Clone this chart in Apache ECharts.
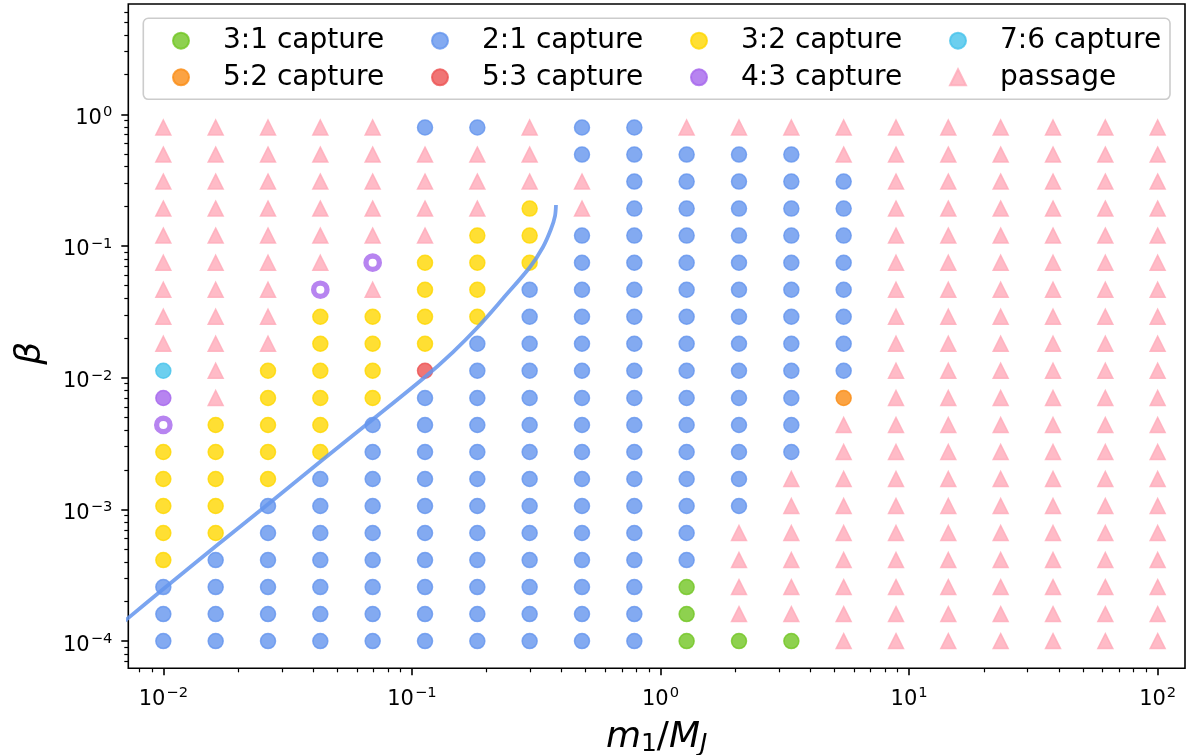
<!DOCTYPE html>
<html>
<head>
<meta charset="utf-8">
<script src="https://cdn.jsdelivr.net/npm/echarts@6/dist/echarts.min.js"></script>
<style>
  html, body { margin: 0; padding: 0; background: #fff; }
  #chart { width: 1187px; height: 755px; }
</style>
</head>
<body>
<div id="chart"></div>
<script>
// Planet mass grid (m1 / M_J), one entry per column
const massValues = [0.01, 0.01624, 0.02637, 0.04281, 0.06952, 0.1129, 0.1833, 0.2976, 0.4833, 0.7848,
                    1.274, 2.069, 3.360, 5.456, 8.859, 14.38, 23.36, 37.93, 61.58, 100];
// Beta grid, one entry per row (smallest first)
const betaValues = [1.0e-4, 1.604e-4, 2.572e-4, 4.125e-4, 6.615e-4, 1.061e-3, 1.701e-3, 2.728e-3, 4.376e-3, 7.017e-3,
                    1.129e-2, 1.810e-2, 2.903e-2, 4.656e-2, 7.467e-2, 0.1199, 0.1923, 0.3084, 0.4947, 0.7943];
// Outcome of each run, rows from largest beta down, one character per mass column
// G = 3:1, 2 = 2:1, Y = 3:2, C = 7:6, O = 5:2, R = 5:3, V = 4:3, v = 4:3 (open), P = passage
const outcomeRows = [
  "PPPPP22P22PPPPPPPPPP",
  "PPPPPPPP22222PPPPPPP",
  "PPPPPPPPP22222PPPPPP",
  "PPPPPPPYP22222PPPPPP",
  "PPPPPPYY222222PPPPPP",
  "PPPPvYYY222222PPPPPP",
  "PPPvPYY2222222PPPPPP",
  "PPPYYYY2222222PPPPPP",
  "PPPYYY22222222PPPPPP",
  "CPYYYR22222222PPPPPP",
  "VPYYY22222222OPPPPPP",
  "vYYY222222222PPPPPPP",
  "YYYY222222222PPPPPPP",
  "YYY222222222PPPPPPPP",
  "YY2222222222PPPPPPPP",
  "YY222222222PPPPPPPPP",
  "Y2222222222PPPPPPPPP",
  "2222222222GPPPPPPPPP",
  "2222222222GPPPPPPPPP",
  "2222222222GGGPPPPPPP"
];
// Legend entries (row-major order) and the codes each one collects
const outcomeNames = ['3:1 capture', '2:1 capture', '3:2 capture', '7:6 capture',
                      '5:2 capture', '5:3 capture', '4:3 capture', 'passage'];
const outcomeCodes = { '3:1 capture': 'G', '2:1 capture': '2', '3:2 capture': 'Y', '7:6 capture': 'C',
                       '5:2 capture': 'O', '5:3 capture': 'R', '4:3 capture': 'Vv', 'passage': 'P' };
// Resonance-capture boundary curve
const boundaryMass = [0.00669, 0.0100, 0.01629, 0.02644, 0.04337, 0.06955, 0.1129, 0.1463, 0.1827,
                      0.2325, 0.2986, 0.3368, 0.3627, 0.3763, 0.3798];
const boundaryBeta = [1.327e-4, 2.489e-4, 5.27e-4, 1.099e-3, 2.35e-3, 4.816e-3, 1.012e-2, 1.567e-2, 2.384e-2,
                      3.994e-2, 6.926e-2, 9.826e-2, 0.1346, 0.1689, 0.2048];
// Axis limits and labelled decades
const xLimits = [0.007229, 128.8];
const yLimits = [6.215e-5, 6.88];
const xTickExponents = [-2, -1, 0, 1, 2];
const yTickExponents = [-4, -3, -2, -1, 0];

// ---- styling ----
const FONT = 'DejaVu Sans';
const markerColors = {
  '3:1 capture': 'rgba(114,197,35,0.8)',
  '2:1 capture': 'rgba(100,149,237,0.8)',
  '3:2 capture': 'rgba(255,215,0,0.8)',
  '7:6 capture': 'rgba(71,195,235,0.8)',
  '5:2 capture': 'rgba(250,140,20,0.8)',
  '5:3 capture': 'rgba(236,82,82,0.8)',
  '4:3 capture': 'rgba(165,101,236,0.8)',
  'passage':     'rgba(255,170,185,0.8)'
};

const L = Math.log10;

// log-spaced minor tick positions (2..9 x 10^k) inside an extent given in decades
function minorTicks(lo, hi) {
  const out = [];
  for (let k = Math.floor(lo) - 1; k <= Math.ceil(hi); k++) {
    for (let m = 2; m <= 9; m++) {
      const v = k + L(m);
      if (v > lo && v < hi) out.push(v);
    }
  }
  return out;
}

const xMin = L(xLimits[0]), xMax = L(xLimits[1]);
const yMin = L(yLimits[0]), yMax = L(yLimits[1]);

function expLabel(v) {
  const e = Math.round(v);
  return '{b|10}{s|' + (e < 0 ? '\u2212' : '') + Math.abs(e) + '}';
}
const xTickRich = {
  b: { fontSize: 21, lineHeight: 24, fontFamily: FONT, color: '#000' },
  s: { fontSize: 14.7, lineHeight: 15, fontFamily: FONT, color: '#000', padding: [0, 0, 12, 1] }
};
const yTickRich = {
  b: { fontSize: 21, lineHeight: 24, fontFamily: FONT, color: '#000', padding: [8, 0, 0, 0] },
  s: { fontSize: 14.7, lineHeight: 15, fontFamily: FONT, color: '#000', padding: [0, 0, 4, 1] }
};

const series = outcomeNames.map(function (name) {
  const codes = outcomeCodes[name];
  const color = markerColors[name];
  const data = [];
  outcomeRows.forEach(function (row, i) {
    const bi = betaValues.length - 1 - i;
    for (let j = 0; j < row.length; j++) {
      const c = row[j];
      if (codes.indexOf(c) < 0) continue;
      const pt = [L(massValues[j]), L(betaValues[bi])];
      if (c === 'v') {
        data.push({ value: pt, symbolSize: 13.4,
          itemStyle: { color: '#ffffff', borderColor: color, borderWidth: 5.3 } });
      } else {
        data.push(pt);
      }
    }
  });
  const isTri = name === 'passage';
  return {
    name: name,
    type: 'scatter',
    xAxisIndex: 0, yAxisIndex: 0,
    symbol: isTri ? 'triangle' : 'circle',
    symbolSize: 15,
    itemStyle: { color: color, borderColor: color, borderWidth: 1.5, opacity: 1 },
    emphasis: { disabled: true },
    data: data,
    z: 2
  };
});

series.push({
  name: 'boundary',
  type: 'line',
  xAxisIndex: 0, yAxisIndex: 0,
  data: boundaryMass.map(function (m, i) { return [L(m), L(boundaryBeta[i])]; }),
  showSymbol: false,
  smooth: 0.3,
  lineStyle: { color: 'rgba(100,149,237,0.85)', width: 3.8 },
  emphasis: { disabled: true },
  clip: true,
  z: 5
});

function legendItem(name, textWidth) {
  return { name: name, icon: name === 'passage' ? 'triangle' : 'circle',
           textStyle: { width: textWidth } };
}

const option = {
  animation: false,
  backgroundColor: '#ffffff',
  textStyle: { fontFamily: FONT },
  grid: {
    left: 128.3, top: 4, right: 2, bottom: 86.7,
    show: true, borderColor: '#000', borderWidth: 1.6, backgroundColor: 'transparent',
    containLabel: false, outerBoundsMode: 'none'
  },
  legend: {
    left: 143.3, top: 18.3, width: 1000,
    orient: 'horizontal',
    padding: [8.1, 7, 7.7, 28.7],
    itemGap: 8,
    itemWidth: 16, itemHeight: 16,
    selectedMode: false,
    backgroundColor: 'rgba(255,255,255,0.8)',
    borderColor: '#cccccc', borderWidth: 1.6, borderRadius: 5,
    textStyle: { fontSize: 28, lineHeight: 28.6, fontFamily: FONT, color: '#000',
                 width: 200, padding: [0, 0, 0, 29] },
    data: [
      legendItem('3:1 capture', 200), legendItem('2:1 capture', 200), legendItem('3:2 capture', 200),
      legendItem('7:6 capture', 163),
      legendItem('5:2 capture', 200), legendItem('5:3 capture', 200), legendItem('4:3 capture', 200),
      legendItem('passage', 163)
    ]
  },
  xAxis: [
    {
      type: 'value', min: xMin, max: xMax, gridIndex: 0, position: 'bottom',
      name: '{i|m}{d|1}{r|/}{i|M}{j|J}',
      nameLocation: 'middle', nameGap: 50,
      nameTextStyle: {
        rich: {
          i: { fontSize: 36, fontStyle: 'italic', fontFamily: FONT, color: '#000' },
          r: { fontSize: 36, fontFamily: FONT, color: '#000' },
          d: { fontSize: 25, fontFamily: FONT, color: '#000', padding: [14, 0, 0, 0] },
          j: { fontSize: 25, fontStyle: 'italic', fontFamily: FONT, color: '#000', padding: [14, 0, 0, 0] }
        }
      },
      axisLine: { show: false, onZero: false },
      splitLine: { show: false },
      axisTick: { show: true, length: 7, customValues: xTickExponents,
                  lineStyle: { color: '#000', width: 1.6 } },
      axisLabel: { show: true, margin: 19, customValues: xTickExponents,
                   formatter: expLabel, rich: xTickRich }
    },
    {
      type: 'value', min: xMin, max: xMax, gridIndex: 0, position: 'bottom', offset: 0,
      axisLine: { show: false, onZero: false },
      splitLine: { show: false },
      axisTick: { show: true, length: 4, customValues: minorTicks(xMin, xMax),
                  lineStyle: { color: '#000', width: 1.2 } },
      axisLabel: { show: false }
    }
  ],
  yAxis: [
    {
      type: 'value', min: yMin, max: yMax, gridIndex: 0, position: 'left',
      name: 'β',
      nameLocation: 'middle', nameGap: 80,
      nameTextStyle: { fontSize: 36, fontStyle: 'italic', fontFamily: FONT, color: '#000',
                       padding: [0, 34, 0, 0] },
      axisLine: { show: false, onZero: false },
      splitLine: { show: false },
      axisTick: { show: true, length: 7, customValues: yTickExponents,
                  lineStyle: { color: '#000', width: 1.6 } },
      axisLabel: { show: true, margin: 16, customValues: yTickExponents,
                   formatter: expLabel, rich: yTickRich }
    },
    {
      type: 'value', min: yMin, max: yMax, gridIndex: 0, position: 'left', offset: 0,
      axisLine: { show: false, onZero: false },
      splitLine: { show: false },
      axisTick: { show: true, length: 4, customValues: minorTicks(yMin, yMax),
                  lineStyle: { color: '#000', width: 1.2 } },
      axisLabel: { show: false }
    }
  ],
  series: series
};

const chart = echarts.init(document.getElementById('chart'), null, { renderer: 'canvas' });
chart.setOption(option);
</script>
</body>
</html>
